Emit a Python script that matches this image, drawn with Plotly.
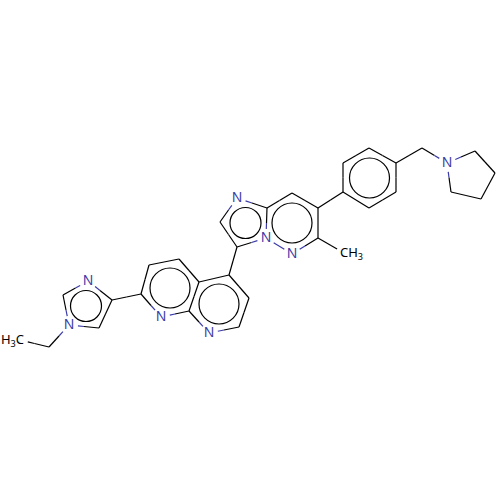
#!/usr/bin/env python3
"""Molecule drawing: atoms and bonds on a pixel-sized 500x500 plot."""

import math

import plotly.graph_objects as go

# ── Colour palette ─────────────────────────────────────────────────────────────
BOND_COLOR = "#000000"
NITROGEN_COLOR = "#3B3BA8"
LINE_WIDTH = 1.2
FONT_FAMILY = "Noto Sans"

# ── Atoms ──────────────────────────────────────────────────────────────────────
atom_x = [
    20, 49, 69, 63, 88, 112, 99,            # ethyl + imidazole
    141, 149, 179, 199, 189, 161, 229, 249, 239, 209,  # naphthyridine
    237, 220, 237, 267, 266, 292, 318, 318, 292, 344,  # imidazopyridazine + methyl
    343, 343, 369, 396, 396, 369,           # phenyl
    422, 447, 475, 495, 481, 451,           # pyrrolidine
]
atom_y = [
    340, 347, 325, 295, 281, 300, 328,
    294, 265, 259, 282, 311, 317, 275, 298, 327, 333,
    247, 222, 198, 208, 238, 254, 238, 208, 193, 253,
    192, 163, 148, 163, 192, 208,
    148, 163, 151, 173, 199, 192,
]
nitrogens = [2, 4, 12, 16, 19, 21, 22, 34]
methyls = [0, 26]

bond_from = [
    0, 1, 2, 3, 4, 5, 6, 5,
    7, 8, 9, 10, 11, 12, 10, 13, 14, 15, 16,
    13, 17, 18, 19, 20, 21, 21, 22, 23, 24, 25, 23,
    24, 27, 28, 29, 30, 31, 32,
    30, 33, 34, 35, 36, 37, 38,
]
bond_to = [
    1, 2, 3, 4, 5, 6, 2, 7,
    8, 9, 10, 11, 12, 7, 13, 14, 15, 16, 11,
    17, 18, 19, 20, 21, 17, 22, 23, 24, 25, 20, 26,
    27, 28, 29, 30, 31, 32, 27,
    33, 34, 35, 36, 37, 38, 34,
]

# ── Aromatic rings (centre x, centre y, radius) ────────────────────────────────
ring_x = [86, 170, 219, 245.5, 292, 369.5]
ring_y = [306, 288, 304, 223, 223, 178]
ring_r = [15.5, 20, 20, 15.5, 20, 20]


def trim(i):
    if i in nitrogens:
        return 9
    if i in methyls:
        return 8
    return 0


black_x, black_y, blue_x, blue_y = [], [], [], []
for a, b in zip(bond_from, bond_to):
    x0, y0, x1, y1 = atom_x[a], atom_y[a], atom_x[b], atom_y[b]
    length = math.hypot(x1 - x0, y1 - y0)
    ux, uy = (x1 - x0) / length, (y1 - y0) / length
    mx, my = (x0 + x1) / 2, (y0 + y1) / 2
    # each half of a bond takes the colour of its own atom
    sx, sy = x0 + ux * trim(a), y0 + uy * trim(a)
    ex, ey = x1 - ux * trim(b), y1 - uy * trim(b)
    first = (blue_x, blue_y) if a in nitrogens else (black_x, black_y)
    second = (blue_x, blue_y) if b in nitrogens else (black_x, black_y)
    first[0].extend([sx, mx, None])
    first[1].extend([sy, my, None])
    second[0].extend([mx, ex, None])
    second[1].extend([my, ey, None])

fig = go.Figure()
fig.add_trace(go.Scatter(x=black_x, y=black_y, mode="lines",
                         line=dict(color=BOND_COLOR, width=LINE_WIDTH)))
fig.add_trace(go.Scatter(x=blue_x, y=blue_y, mode="lines",
                         line=dict(color=NITROGEN_COLOR, width=LINE_WIDTH)))
fig.add_trace(go.Scatter(
    x=[atom_x[i] for i in nitrogens],
    y=[atom_y[i] for i in nitrogens],
    mode="text",
    text=["N"] * len(nitrogens),
    textposition="middle center",
    textfont=dict(family=FONT_FAMILY, size=14, color=NITROGEN_COLOR),
))
fig.add_trace(go.Scatter(
    x=[atom_x[0] + 4], y=[atom_y[0] + 1], mode="text",
    text=["H<sub>3</sub>C"], textposition="middle left",
    textfont=dict(family=FONT_FAMILY, size=13, color=BOND_COLOR),
))
fig.add_trace(go.Scatter(
    x=[atom_x[26] - 4], y=[atom_y[26] + 1], mode="text",
    text=["CH<sub>3</sub>"], textposition="middle right",
    textfont=dict(family=FONT_FAMILY, size=13, color=BOND_COLOR),
))

for cx, cy, r in zip(ring_x, ring_y, ring_r):
    fig.add_shape(type="circle", xref="x", yref="y",
                  x0=cx - r, x1=cx + r, y0=cy - r, y1=cy + r,
                  line=dict(color=BOND_COLOR, width=LINE_WIDTH))

fig.update_layout(
    width=500,
    height=500,
    margin=dict(l=0, r=0, t=0, b=0),
    paper_bgcolor="#FFFFFF",
    plot_bgcolor="#FFFFFF",
    showlegend=False,
    xaxis=dict(range=[0, 500], visible=False),
    yaxis=dict(range=[500, 0], visible=False),
)

fig.write_html("out.html", post_script="document.body.style.margin='0'",
               config=dict(displayModeBar=False))
